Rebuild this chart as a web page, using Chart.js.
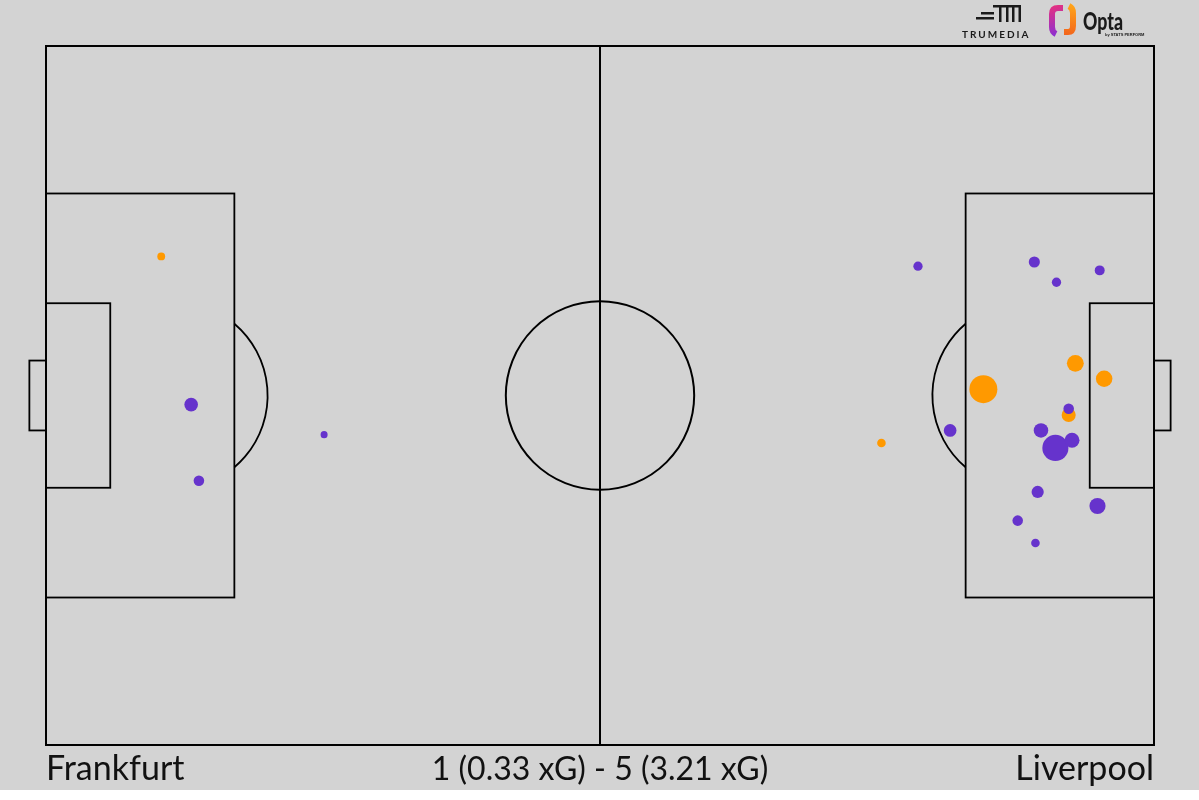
<!DOCTYPE html>
<html>
<head>
<meta charset="utf-8">
<script src="https://cdn.jsdelivr.net/npm/chart.js@4"></script>
<style>
  body { margin: 0; background: #ffffff; }
  #wrap { width: 1199px; height: 790px; background: #d3d3d3; }
</style>
</head>
<body>
<div id="wrap"><canvas id="chart" width="1199" height="790"></canvas></div>
<script>
// shots on Opta 0-100 pitch coords, xG per shot
const homeTeam = 'Frankfurt';
const awayTeam = 'Liverpool';
const scoreLine = '1 (0.33 xG) - 5 (3.21 xG)';

const missX  = [13.1, 13.8, 25.1, 78.7, 89.2, 91.2, 95.1, 92.3, 89.8, 81.6, 91.1, 92.6, 89.5, 94.9, 87.7, 89.3];
const missY  = [51.3, 62.2, 55.6, 31.5, 30.9, 33.8, 32.1, 51.9, 55.0, 55.0, 57.5, 56.4, 63.8, 65.8, 67.9, 71.1];
const missXG = [0.15, 0.09, 0.04, 0.07, 0.10, 0.07, 0.08, 0.09, 0.17, 0.13, 0.55, 0.18, 0.12, 0.21, 0.09, 0.06];

const goalX  = [10.4, 92.9, 95.5, 84.6, 92.3, 75.4];
const goalY  = [30.1, 45.4, 47.6, 49.1, 52.8, 56.8];
const goalXG = [0.05, 0.23, 0.22, 0.63, 0.16, 0.06];

function toPoints(xs, ys, xg) {
  return xs.map((x, i) => ({ x: x, y: ys[i], xg: xg[i] }));
}

const radiusFor = ctx => 17.6 * Math.sqrt(ctx.raw ? ctx.raw.xg : 0.05);

// pitch markings, drawn under the shots
const pitchPlugin = {
  id: 'pitch',
  beforeDatasetsDraw(chart) {
    const c = chart.ctx;
    const xs = chart.scales.x, ys = chart.scales.y;
    const px = v => xs.getPixelForValue(v);
    const py = v => ys.getPixelForValue(v);
    const rect = (x0, y0, x1, y1) => {
      c.strokeRect(px(x0), py(y0), px(x1) - px(x0), py(y1) - py(y0));
    };
    c.save();
    c.strokeStyle = '#000';
    c.lineWidth = 2;
    rect(0, 0, 100, 100);
    c.beginPath();
    c.moveTo(px(50), py(0));
    c.lineTo(px(50), py(100));
    c.stroke();

    const r = px(8.5) - px(0);
    c.beginPath();
    c.arc(px(50), py(50), r, 0, Math.PI * 2);
    c.stroke();

    c.lineWidth = 1.8;
    // left end
    rect(0, 21.1, 17, 78.9);
    rect(0, 36.8, 5.8, 63.2);
    rect(-1.5, 45, 0, 55);
    let cx = px(11.5);
    let th = Math.acos((px(17) - cx) / r);
    c.beginPath();
    c.arc(cx, py(50), r, -th, th);
    c.stroke();
    // right end
    rect(83, 21.1, 100, 78.9);
    rect(94.2, 36.8, 100, 63.2);
    rect(100, 45, 101.5, 55);
    cx = px(88.5);
    th = Math.acos((cx - px(83)) / r);
    c.beginPath();
    c.arc(cx, py(50), r, Math.PI - th, Math.PI + th);
    c.stroke();
    c.restore();
  },
  afterDraw(chart) {
    const c = chart.ctx;
    const a = chart.chartArea;
    c.save();
    c.fillStyle = '#111';
    c.textBaseline = 'alphabetic';
    c.font = '34px Lato';
    c.textAlign = 'left';
    c.fillText(homeTeam, a.left, 780);
    c.textAlign = 'right';
    c.fillText(awayTeam, a.right, 780);
    c.font = '32px Lato';
    c.textAlign = 'center';
    c.fillText(scoreLine, (a.left + a.right) / 2, 780);

    // TruMedia mark
    c.fillStyle = '#1a1a1a';
    c.fillRect(981, 12, 13, 2.5);
    c.fillRect(976, 17, 18, 2.5);
    c.fillRect(993, 5, 28, 2.5);
    c.fillRect(999, 5, 2.5, 17);
    c.fillRect(1006, 5, 2.5, 17);
    c.fillRect(1012, 5, 2.5, 17);
    c.fillRect(1018.5, 5, 2.5, 17);
    c.font = 'bold 10px Lato';
    c.letterSpacing = '2px';
    c.textAlign = 'left';
    c.fillText('TRUMEDIA', 962, 38);
    c.letterSpacing = '0px';

    // Opta mark
    c.lineWidth = 6;
    c.lineCap = 'butt';
    const g1 = c.createLinearGradient(1050, 5, 1058, 35);
    g1.addColorStop(0, '#e8327e');
    g1.addColorStop(1, '#8d2fd0');
    c.strokeStyle = g1;
    c.beginPath();
    c.moveTo(1063, 8);
    c.lineTo(1058, 8);
    c.quadraticCurveTo(1052, 8, 1052, 14);
    c.lineTo(1052, 27);
    c.quadraticCurveTo(1052, 32, 1056, 34);
    c.stroke();
    const g2 = c.createLinearGradient(1070, 5, 1066, 36);
    g2.addColorStop(0, '#ffa319');
    g2.addColorStop(1, '#f2631d');
    c.strokeStyle = g2;
    c.beginPath();
    c.moveTo(1064, 32);
    c.lineTo(1068, 32);
    c.quadraticCurveTo(1073, 32, 1073, 26);
    c.lineTo(1073, 13);
    c.quadraticCurveTo(1073, 8, 1069, 6);
    c.stroke();
    c.fillStyle = '#1a1a1a';
    c.font = '900 24px Lato';
    c.fillText('Opta', 1083, 30, 40);
    c.font = 'bold 4px Arial';
    c.fillText('by STATS PERFORM', 1105, 36, 44);
    c.restore();
  }
};

new Chart(document.getElementById('chart'), {
  type: 'scatter',
  data: {
    datasets: [
      {
        label: 'No goal',
        data: toPoints(missX, missY, missXG),
        backgroundColor: '#6633cc',
        borderWidth: 0,
        pointRadius: radiusFor,
        pointHoverRadius: radiusFor
      },
      {
        label: 'Goal',
        data: toPoints(goalX, goalY, goalXG),
        backgroundColor: '#ff9900',
        borderWidth: 0,
        pointRadius: radiusFor,
        pointHoverRadius: radiusFor
      }
    ]
  },
  options: {
    responsive: false,
    animation: false,
    layout: { padding: { left: 46, right: 45, top: 46, bottom: 45 } },
    scales: {
      x: { type: 'linear', min: 0, max: 100, display: false },
      y: { type: 'linear', min: 0, max: 100, reverse: true, display: false }
    },
    plugins: {
      legend: { display: false },
      tooltip: { enabled: false }
    }
  },
  plugins: [pitchPlugin]
});
</script>
</body>
</html>
